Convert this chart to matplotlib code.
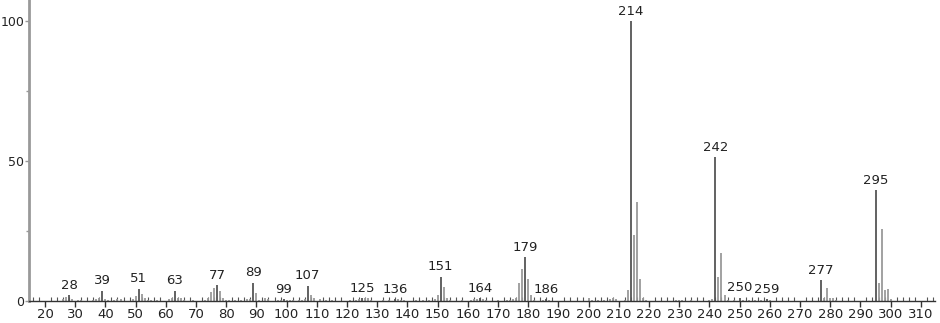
import matplotlib
matplotlib.use("Agg")
import matplotlib.pyplot as plt
from matplotlib.ticker import MultipleLocator, FixedLocator

mz = [26, 27, 28, 29, 31, 32, 36, 37, 38, 39, 40, 41, 43, 44, 45, 49, 50, 51, 52, 53,
      54, 55, 57, 61, 62, 63, 64, 65, 66, 69, 73, 74, 75, 76, 77, 78, 79, 80, 81, 83,
      85, 87, 88, 89, 90, 91, 93, 94, 97, 98, 99, 100, 101, 102, 104, 105, 106, 107, 108, 109,
      111, 113, 115, 121, 123, 124, 125, 126, 127, 128, 132, 134, 136, 137, 138, 139, 143, 145, 147, 149,
      150, 151, 152, 153, 154, 158, 161, 162, 163, 164, 165, 166, 170, 173, 174, 175, 176, 177, 178, 179,
      180, 181, 182, 185, 186, 187, 200, 201, 203, 205, 207, 208, 209, 212, 213, 214, 215, 216, 217, 218,
      219, 229, 230, 231, 234, 240, 241, 242, 243, 244, 245, 246, 248, 250, 251, 253, 255, 257, 259, 260,
      277, 278, 279, 280, 281, 282, 295, 296, 297, 298, 299, 300]
intensity = [0.8, 1.5, 2.1, 0.6, 0.3, 0.4, 0.4, 0.8, 1.0, 3.6, 0.6, 0.4, 0.4, 0.6, 0.8, 0.6, 1.8, 4.4, 2.4, 1.0,
             0.5, 0.3, 0.4, 0.6, 1.2, 3.6, 1.0, 1.2, 0.5, 0.3, 0.5, 1.2, 3.3, 4.8, 5.7, 3.6, 1.2, 0.5, 0.3, 0.4,
             0.5, 0.6, 0.8, 6.5, 3.0, 0.5, 1.0, 0.6, 0.4, 0.5, 0.6, 0.4, 0.5, 0.4, 0.4, 0.5, 0.6, 5.5, 2.1, 1.2,
             0.8, 0.4, 0.3, 0.4, 0.5, 0.8, 1.0, 1.1, 0.9, 0.5, 0.4, 0.5, 0.7, 0.6, 0.4, 0.4, 0.3, 0.4, 0.5, 0.6,
             2.1, 8.6, 5.1, 1.0, 0.4, 0.3, 0.4, 0.6, 0.7, 1.0, 0.8, 0.5, 0.3, 0.4, 0.4, 0.6, 1.0, 6.5, 11.5, 15.7,
             8.0, 2.1, 0.5, 0.4, 0.6, 0.4, 1.0, 0.5, 0.4, 0.5, 0.6, 1.0, 0.6, 0.5, 3.9, 100.0, 23.6, 35.4, 7.7, 1.2,
             0.5, 0.4, 0.5, 0.3, 0.4, 0.5, 0.8, 51.4, 8.7, 17.0, 2.3, 0.4, 0.4, 1.2, 0.5, 0.5, 0.3, 0.5, 0.6, 0.4,
             7.5, 1.2, 4.6, 1.2, 1.0, 0.4, 39.6, 6.3, 25.8, 3.9, 4.3, 0.8]
labeled = [28, 39, 51, 63, 77, 89, 99, 107, 125, 136, 151, 164, 179, 186, 214, 242, 250, 259, 277, 295]

x_ticks = list(range(20, 311, 10))
y_ticks = [0, 50, 100]

fig = plt.figure(figsize=(9.4, 3.23), dpi=100)
ax = fig.add_axes([29 / 940, 22 / 323, 906 / 940, 301 / 323])

text_color = "#222222"
for m, v in zip(mz, intensity):
    is_lab = m in labeled
    ax.vlines(m, 0, v, colors="#555555" if is_lab else "#9a9a9a", linewidth=1.3)
    if is_lab:
        ax.annotate(str(m), (m, v), xytext=(0, 2.5), textcoords="offset points",
                    ha="center", va="bottom", fontsize=9.5, color=text_color)

ax.set_xlim(14.7, 314.7)
ax.set_ylim(0, 107.5)
ax.xaxis.set_major_locator(FixedLocator(x_ticks))
ax.xaxis.set_minor_locator(MultipleLocator(2))
ax.yaxis.set_major_locator(FixedLocator(y_ticks))
ax.yaxis.set_minor_locator(FixedLocator([25, 75]))

for s in ["top", "right"]:
    ax.spines[s].set_visible(False)
ax.spines["left"].set_color("#999999")
ax.spines["left"].set_linewidth(2)
ax.spines["bottom"].set_color("#333333")
ax.spines["bottom"].set_linewidth(1)

ax.tick_params(axis="x", which="major", direction="out", length=4, width=1,
               color="#333333", labelsize=9.5, labelcolor=text_color, pad=1)
ax.tick_params(axis="x", which="minor", direction="in", length=3, width=0.8, color="#555555")
ax.tick_params(axis="y", which="major", direction="out", length=3, width=1,
               color="#999999", labelsize=9, labelcolor=text_color, pad=0.5)
ax.tick_params(axis="y", which="minor", direction="out", length=2, width=1, color="#999999")

fig.savefig("out.png", dpi=100)
